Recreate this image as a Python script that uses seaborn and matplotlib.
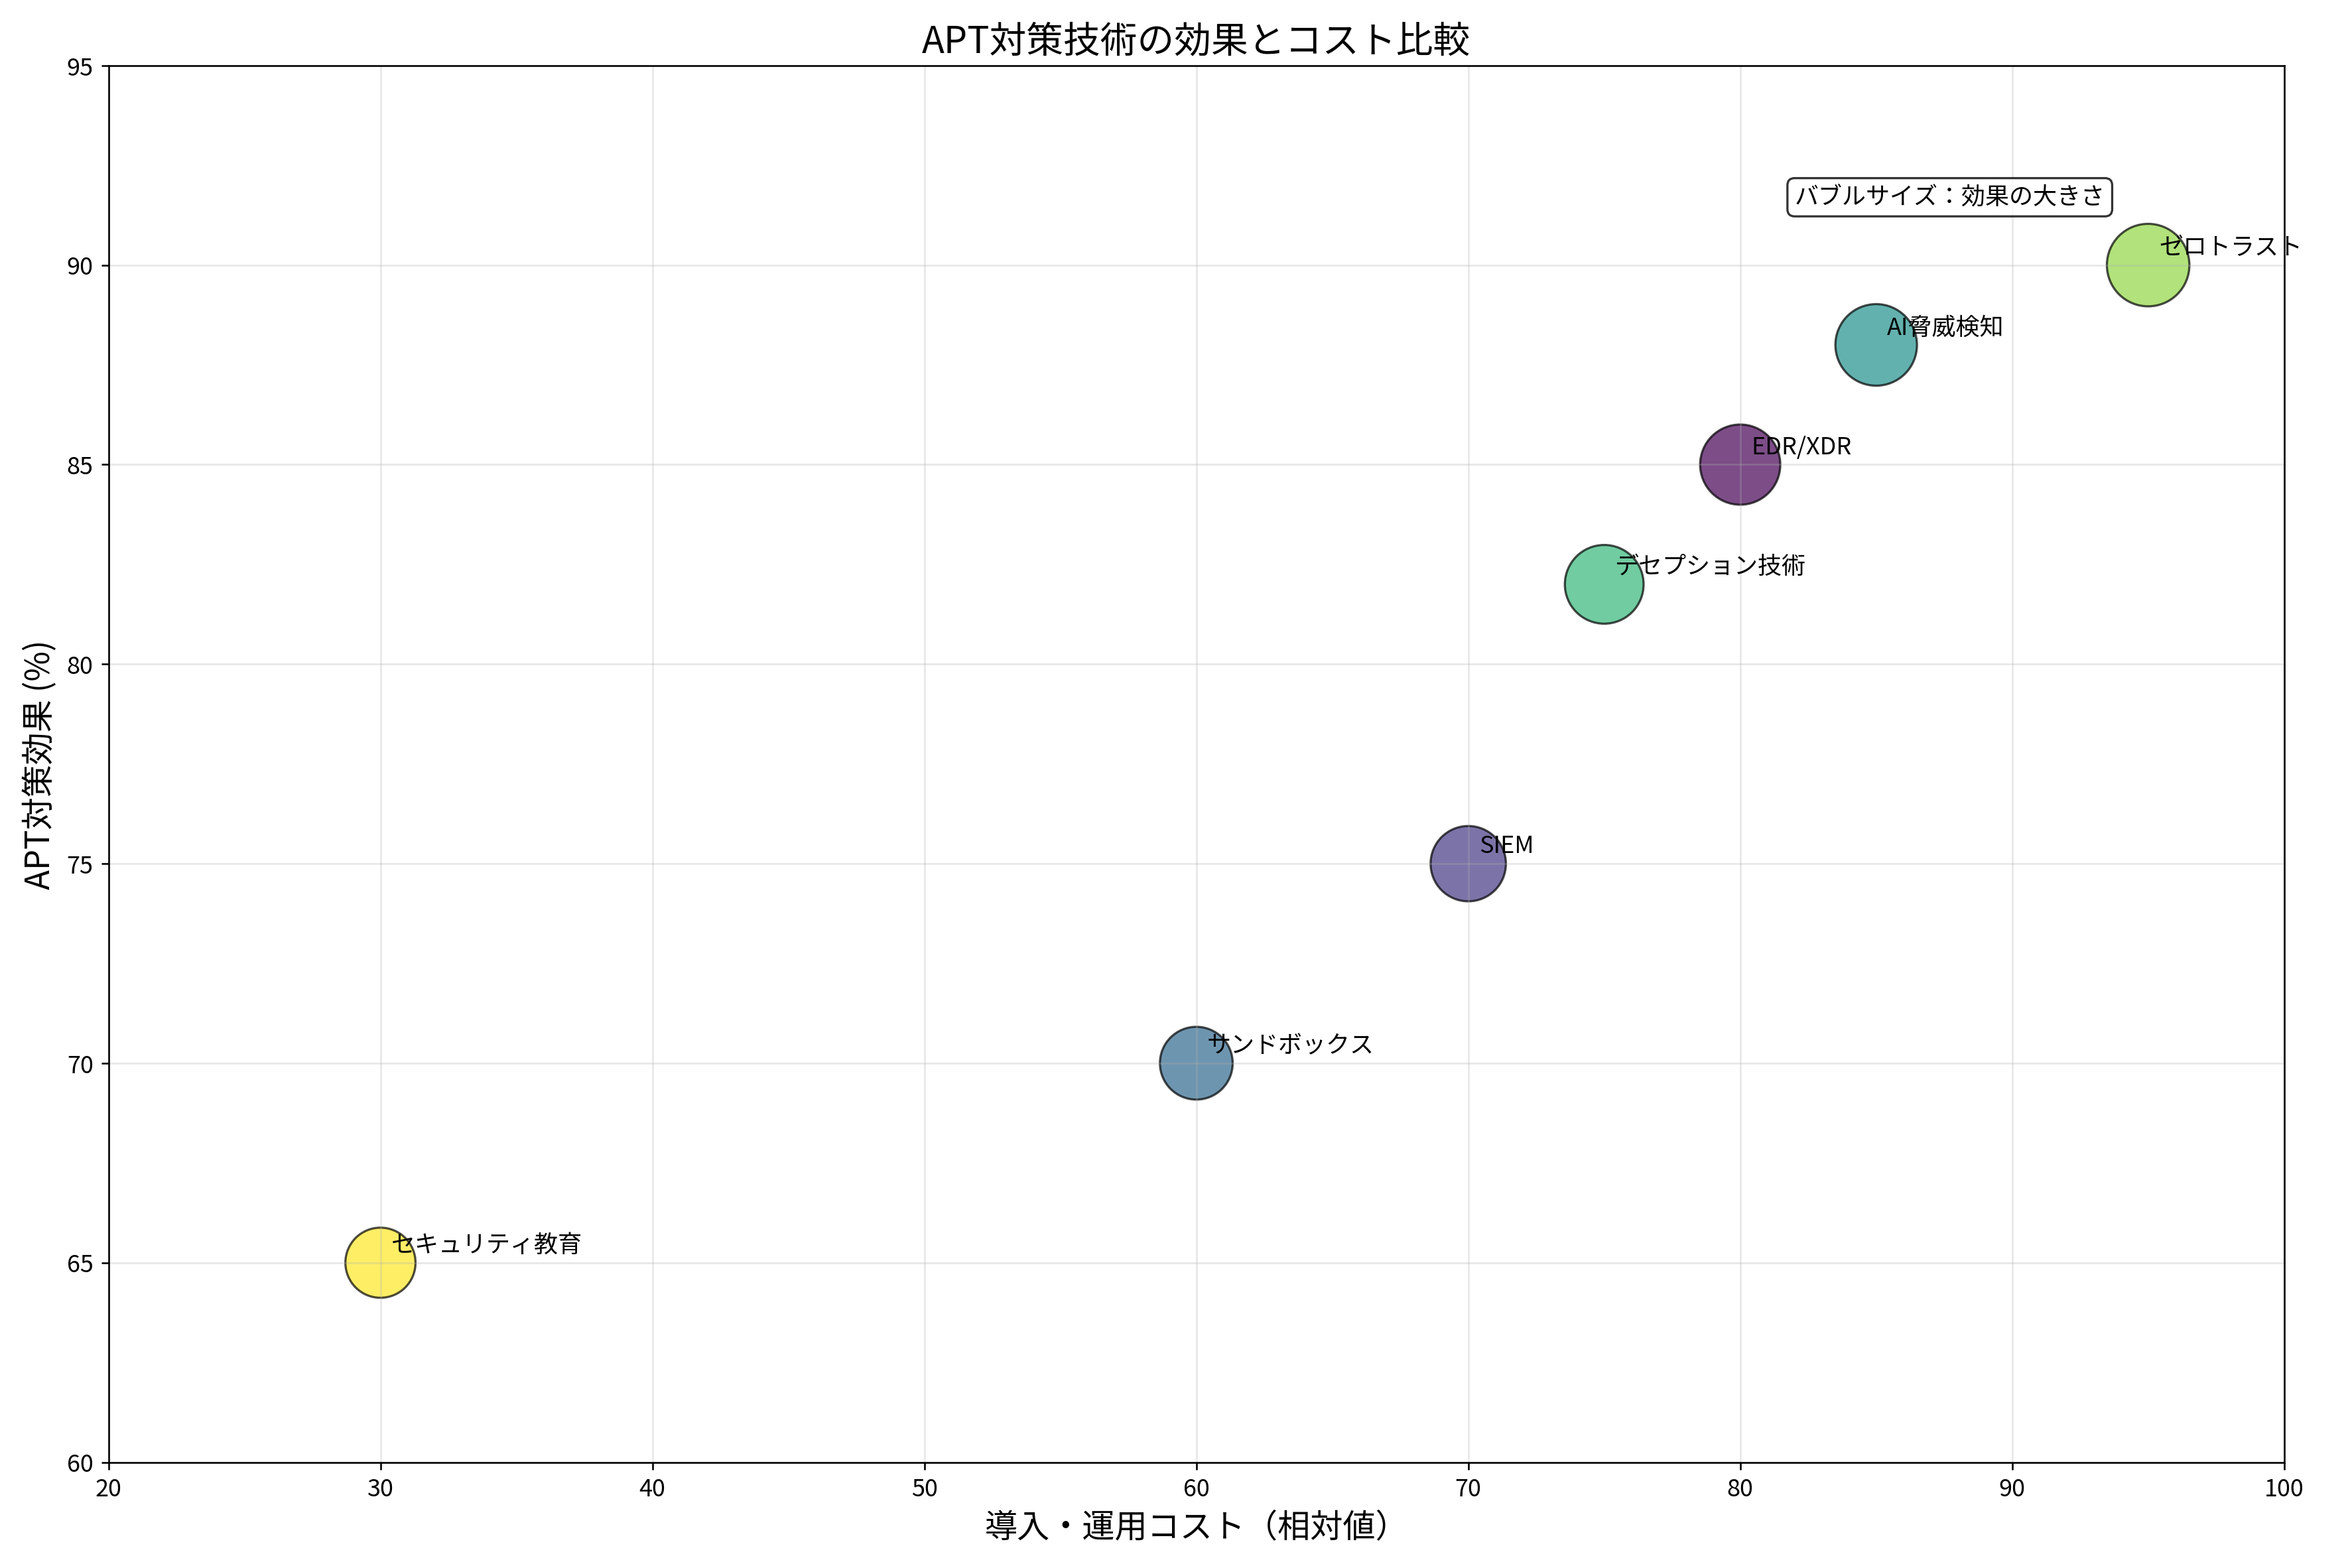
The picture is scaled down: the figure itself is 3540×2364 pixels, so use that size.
import matplotlib
matplotlib.use("Agg")
import matplotlib.pyplot as plt
import seaborn as sns
import pandas as pd
import numpy as np

plt.rcParams["font.family"] = "Noto Sans CJK JP"

techs = ["EDR/XDR", "SIEM", "サンドボックス", "AI脅威検知", "デセプション技術", "ゼロトラスト", "セキュリティ教育"]
cost = [80, 70, 60, 85, 75, 95, 30]
effect = [85, 75, 70, 88, 82, 90, 65]

df = pd.DataFrame({"tech": techs, "cost": cost, "effect": effect})
colors = [plt.cm.viridis(i / (len(techs) - 1)) for i in range(len(techs))]

fig, ax = plt.subplots(figsize=(15, 10.02), dpi=236)
sns.scatterplot(data=df, x="cost", y="effect", hue="tech", palette=colors,
                size="effect", sizes=(65 * 16, 90 * 16), size_norm=(65, 90),
                alpha=0.7, edgecolor="black", linewidth=1, legend=False, ax=ax)
for t, x, y in zip(techs, cost, effect):
    ax.annotate(t, (x, y), xytext=(5, 5), textcoords="offset points", fontsize=11)

ax.text(82, 91.7, "バブルサイズ：効果の大きさ", fontsize=11, va="center",
        bbox=dict(boxstyle="round,pad=0.3", facecolor="white", edgecolor="black", alpha=0.8))

ax.set_xlim(20, 100)
ax.set_ylim(60, 95)
ax.set_xlabel("導入・運用コスト（相対値）", fontsize=15)
ax.set_ylabel("APT対策効果 (%)", fontsize=15)
ax.set_title("APT対策技術の効果とコスト比較", fontsize=17)
ax.tick_params(labelsize=11)
ax.grid(True, alpha=0.3)
fig.tight_layout()
fig.savefig("out.png")
